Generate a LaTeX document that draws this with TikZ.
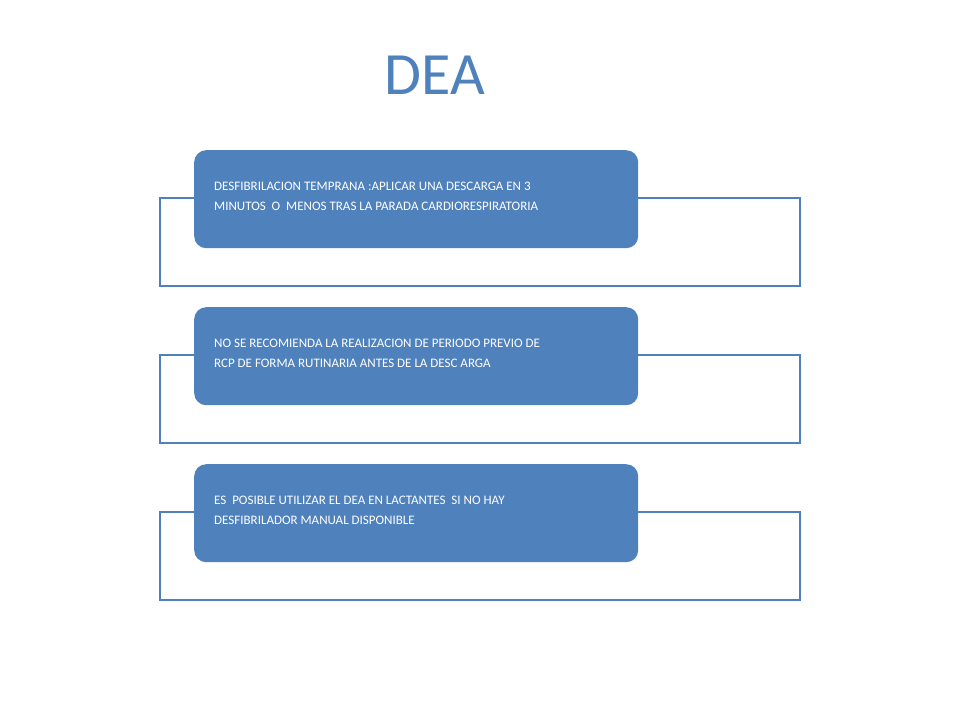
\documentclass[tikz,border=0pt]{standalone}
\usepackage{fontspec}
\setmainfont{Carlito}
\definecolor{dblue}{HTML}{4F81BD}
\begin{document}
\begin{tikzpicture}[x=1pt,y=1pt,
  outline/.style={draw=dblue,line width=2pt},
  card/.style={fill=dblue,rounded corners=12pt,minimum width=444pt,minimum height=98pt,anchor=north west,inner sep=0pt},
  cardtext/.style={anchor=north west,text=white,font=\fontsize{13}{20}\selectfont,align=left,inner sep=0pt}]
\useasboundingbox (0,0) rectangle (960,-720);
\node[text=dblue,font=\fontsize{60}{60}\selectfont] (title) at (435,-75) {DEA};
\foreach \y/\n/\t in {150/a/{DESFIBRILACION TEMPRANA :APLICAR UNA DESCARGA EN 3\\MINUTOS\ \ O\ \ MENOS TRAS LA PARADA CARDIORESPIRATORIA},
  307/b/{NO SE RECOMIENDA LA REALIZACION DE PERIODO PREVIO DE\\RCP DE FORMA RUTINARIA ANTES DE LA DESC ARGA},
  464/c/{ES\ \ POSIBLE UTILIZAR EL DEA EN LACTANTES\ \ SI NO HAY\\DESFIBRILADOR MANUAL DISPONIBLE}}{
  \draw[outline] (160,-\y-48) rectangle (800,-\y-136);
  \node[card] (box\n) at (194,-\y) {};
  \node[cardtext] (txt\n) at (214,-\y-32) {\t};
}
\end{tikzpicture}
\end{document}
